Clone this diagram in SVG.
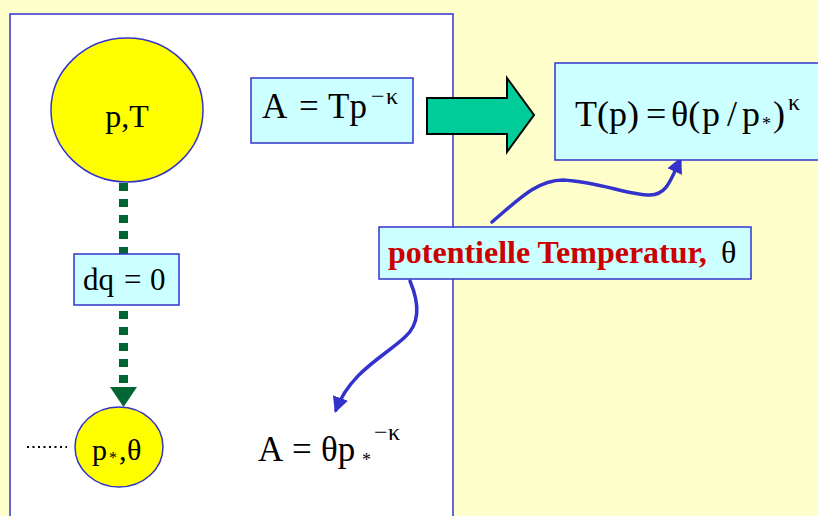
<svg xmlns="http://www.w3.org/2000/svg" width="818" height="516" viewBox="0 0 818 516">
<style>
.t{font-family:"Liberation Serif","Times New Roman",serif;fill:#000}
.box{fill:#CCFFFF;stroke:#3333CC;stroke-width:1.5}
.circ{fill:#FFFF00;stroke:#3333CC;stroke-width:1.5}
.curve{fill:none;stroke:#3333CC;stroke-width:3.5;stroke-linecap:round}
</style>
<defs>
<marker id="bh" viewBox="0 0 10 10" refX="8" refY="5" markerWidth="16" markerHeight="16" markerUnits="userSpaceOnUse" orient="auto">
<path d="M0,0 L10,5 L0,10 z" fill="#3333CC"/>
</marker>
</defs>
<rect width="818" height="516" fill="#FFFFCC"/>
<rect id="panel" x="10" y="14" width="443" height="520" fill="#FFFFFF" stroke="#3333CC" stroke-width="1.5"/>

<g id="connectors">
<line x1="123.5" y1="183" x2="123.5" y2="254" stroke="#006633" stroke-width="9" stroke-dasharray="8 8"/>
<line x1="123.5" y1="311" x2="123.5" y2="383" stroke="#006633" stroke-width="9" stroke-dasharray="8 8"/>
<path d="M110,387 L137,387 L123.5,407 z" fill="#006633"/>
<line x1="27" y1="447" x2="67" y2="447" stroke="#000" stroke-width="2" stroke-dasharray="2 3.5"/>
<path d="M427,98 L507,98 L507,78 L534,115 L507,152 L507,134 L427,134 z" fill="#00CC99" stroke="#000" stroke-width="2"/>
<path class="curve" d="M492,222 C520,198 538,180 563,180 C600,182 628,195 650,195 C666,195 670,182 680,160" marker-end="url(#bh)"/>
<path class="curve" d="M410,281 C418,300 422,322 405,337 C385,356 350,372 336,410" marker-end="url(#bh)"/>
</g>

<g id="node-pT">
<ellipse class="circ" cx="127" cy="110" rx="76" ry="72"/>
<text class="t" x="127" y="127" font-size="32" text-anchor="middle">p,T</text>
</g>

<g id="node-dq">
<rect class="box" x="74" y="254" width="105" height="51"/>
<text class="t" font-size="31" y="290"><tspan x="83">dq</tspan><tspan x="124">=</tspan><tspan x="150">0</tspan></text>
</g>

<g id="node-pstar">
<ellipse class="circ" cx="119" cy="447" rx="44" ry="40"/>
<text class="t" font-size="30" y="460"><tspan x="92">p</tspan><tspan x="109" y="463" font-size="16">*</tspan><tspan x="119" y="460">,</tspan><tspan x="127">θ</tspan></text>
</g>

<g id="node-A1">
<rect class="box" x="251" y="78" width="162" height="65"/>
<text class="t" font-size="35" y="118"><tspan x="262">A</tspan><tspan x="299">=</tspan><tspan x="328">Tp</tspan><tspan x="371" y="104" font-size="24">−</tspan><tspan x="386" y="104" font-size="24">κ</tspan></text>
</g>

<g id="node-Tp">
<rect class="box" x="555" y="63" width="280" height="97"/>
<text class="t" font-size="36" y="126"><tspan x="575">T(p)</tspan><tspan x="646">=</tspan><tspan x="671">θ(</tspan><tspan x="702">p</tspan><tspan x="727">/</tspan><tspan x="742">p</tspan><tspan x="762" y="130" font-size="18">*</tspan><tspan x="773" y="126">)</tspan><tspan x="788" y="110" font-size="24">κ</tspan></text>
</g>

<g id="node-label">
<rect class="box" x="379" y="227" width="372" height="52"/>
<text class="t" font-size="32" y="263"><tspan x="388" fill="#CC0000" font-weight="bold">potentielle Temperatur,</tspan><tspan x="721">θ</tspan></text>
</g>

<g id="node-A2">
<text class="t" font-size="35" y="461"><tspan x="258">A</tspan><tspan x="292">=</tspan><tspan x="321">θp</tspan><tspan x="362" y="466" font-size="18">*</tspan><tspan x="374" y="440" font-size="24">−</tspan><tspan x="388" y="440" font-size="24">κ</tspan></text>
</g>
</svg>
